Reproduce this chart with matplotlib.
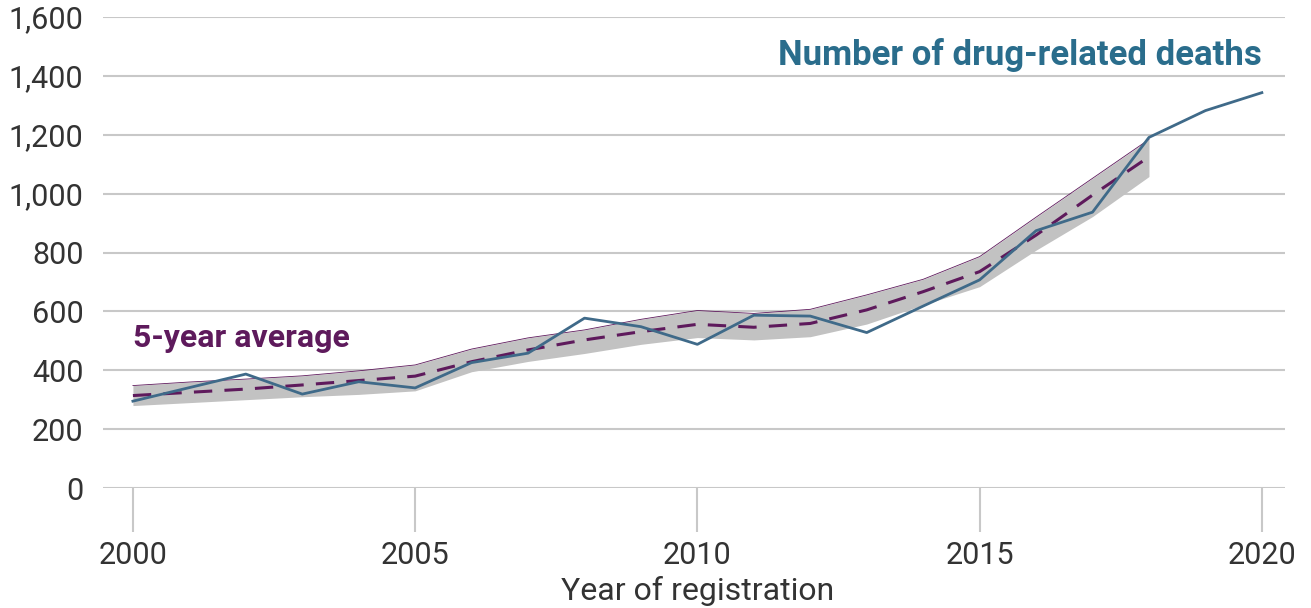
import matplotlib.pyplot as plt

plt.rcParams['font.family'] = ['Roboto', 'DejaVu Sans']

years = list(range(2000, 2021))
deaths = [295, 341, 387, 319, 361, 340, 426, 458, 577, 548, 488, 587, 584, 528,
          618, 707, 874, 937, 1191, 1282, 1343]

avg_years = list(range(2000, 2019))
avg = [314, 325, 336, 350, 365, 380, 429, 469, 503, 531, 556, 546, 559, 605,
       667, 735, 859, 995, 1125]
upper = [348, 360, 370, 381, 398, 418, 472, 510, 537, 573, 603, 593, 607, 656,
         709, 786, 920, 1052, 1184]
lower = [280, 290, 300, 310, 318, 330, 395, 430, 457, 488, 511, 503, 514, 557,
         622, 684, 808, 922, 1058]

yticks = [0, 200, 400, 600, 800, 1000, 1200, 1400, 1600]
xticks = [2000, 2005, 2010, 2015, 2020]

blue = '#3f6a89'
purple = '#5e1a5c'
grid = '#c8c8c8'

fig = plt.figure(figsize=(13.11, 6.08), dpi=100)
ax = fig.add_axes([103 / 1311, 1 - 488 / 608, (1285 - 103) / 1311, (488 - 17) / 608])

ax.fill_between(avg_years, lower, upper, color='#c2c2c2', lw=0, zorder=2)
ax.plot(avg_years, upper, color=purple, lw=0.6, zorder=3)
ax.plot(avg_years, avg, color=purple, lw=2.2, dashes=(6, 4), zorder=4)
ax.plot(years, deaths, color=blue, lw=2, zorder=5)

ax.set_xlim(1999.47, 2020.41)
ax.set_ylim(0, 1600)
ax.set_yticks(yticks)
ax.set_yticklabels([f'{v:,}' for v in yticks])
ax.set_xticks(xticks)
ax.set_xticklabels([str(v) for v in xticks])

for v in yticks:
    ax.axhline(v, color=grid, lw=1.5, zorder=1)

for s in ax.spines.values():
    s.set_visible(False)

ax.tick_params(axis='y', length=0, pad=14, labelsize=22, labelcolor='#333333')
ax.tick_params(axis='x', length=32, width=1.5, color=grid, pad=6,
               labelsize=22, labelcolor='#333333')
fig.text(698 / 1311, 1 - 591 / 608, 'Year of registration', fontsize=23,
         color='#333333', ha='center', va='center')

ax.text(2020, 1471, 'Number of drug-related deaths', color='#2a6d8c',
        fontsize=25, fontweight='bold', ha='right', va='center')
ax.text(2000, 510, '5-year average', color=purple,
        fontsize=23, fontweight='bold', ha='left', va='center')

fig.savefig('out.png', dpi=100)
